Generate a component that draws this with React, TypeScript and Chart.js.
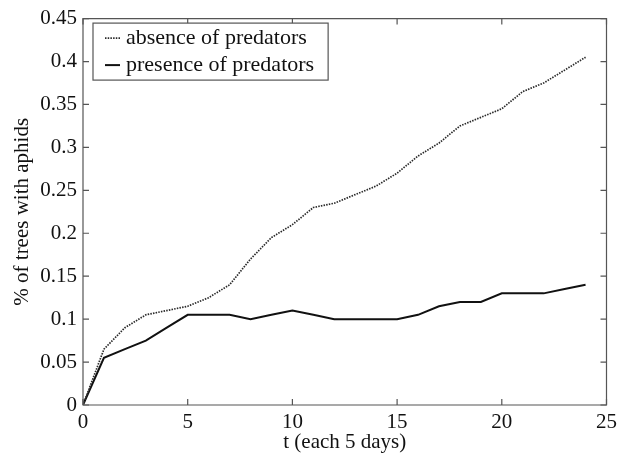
import React, { useEffect, useRef } from "react";
import { Chart, registerables } from "chart.js";

Chart.register(...registerables);

const tValues = [0, 1, 2, 3, 4, 5, 6, 7, 8, 9, 10, 11, 12, 13, 14, 15, 16, 17, 18, 19, 20, 21, 22, 23, 24];
const absenceValues = [0, 0.065, 0.09, 0.105, 0.11, 0.115, 0.125, 0.14, 0.17, 0.195, 0.21, 0.23, 0.235, 0.245, 0.255, 0.27, 0.29, 0.305, 0.325, 0.335, 0.345, 0.365, 0.375, 0.39, 0.405];
const presenceValues = [0, 0.055, 0.065, 0.075, 0.09, 0.105, 0.105, 0.105, 0.1, 0.105, 0.11, 0.105, 0.1, 0.1, 0.1, 0.1, 0.105, 0.115, 0.12, 0.12, 0.13, 0.13, 0.13, 0.135, 0.14];
const seriesLabels = ["absence of predators", "presence of predators"];
const xTickValues = [0, 5, 10, 15, 20, 25];
const xTickLabels = ["0", "5", "10", "15", "20", "25"];
const yTickValues = [0, 0.05, 0.1, 0.15, 0.2, 0.25, 0.3, 0.35, 0.4, 0.45];
const yTickLabels = ["0", "0.05", "0.1", "0.15", "0.2", "0.25", "0.3", "0.35", "0.4", "0.45"];
const xTitle = "t (each 5 days)";
const yTitle = "% of trees with aphids";

const FONT_FAMILY = "'Liberation Serif', 'Times New Roman', serif";
const FONT_SIZE = 21;
const LEGEND_FONT_SIZE = 22;
const FRAME = "#555555";

const framePlugin = {
  id: "matlabFrame",
  afterDatasetsDraw(chart: any) {
    const { ctx, chartArea } = chart;
    const { left, right, top, bottom } = chartArea;
    const xs = chart.scales.x;
    const ys = chart.scales.y;
    const tl = 6;
    ctx.save();
    ctx.strokeStyle = FRAME;
    ctx.lineWidth = 1.2;
    ctx.beginPath();
    ctx.rect(left, top, right - left, bottom - top);
    ctx.stroke();
    ctx.beginPath();
    for (const v of xTickValues) {
      const px = xs.getPixelForValue(v);
      ctx.moveTo(px, bottom);
      ctx.lineTo(px, bottom - tl);
      ctx.moveTo(px, top);
      ctx.lineTo(px, top + tl);
    }
    for (const v of yTickValues) {
      const py = ys.getPixelForValue(v);
      ctx.moveTo(left, py);
      ctx.lineTo(left + tl, py);
      ctx.moveTo(right, py);
      ctx.lineTo(right - tl, py);
    }
    ctx.stroke();

    // legend box
    ctx.font = `${LEGEND_FONT_SIZE}px ${FONT_FAMILY}`;
    const bx = left + 10;
    const by = top + 4.5;
    const textX = bx + 33;
    const maxW = Math.max(...seriesLabels.map((s) => ctx.measureText(s).width));
    const bw = textX - bx + maxW + 14;
    const bh = 57;
    ctx.fillStyle = "#ffffff";
    ctx.fillRect(bx, by, bw, bh);
    ctx.strokeStyle = FRAME;
    ctx.lineWidth = 1.2;
    ctx.strokeRect(bx, by, bw, bh);
    const rows = [by + 15, by + 42];
    chart.data.datasets.forEach((ds: any, i: number) => {
      const y = rows[i];
      ctx.save();
      ctx.strokeStyle = ds.borderColor;
      ctx.lineWidth = ds.borderWidth;
      ctx.setLineDash(ds.borderDash || []);
      ctx.beginPath();
      ctx.moveTo(bx + 12, y);
      ctx.lineTo(bx + 27, y);
      ctx.stroke();
      ctx.restore();
      ctx.fillStyle = "#111111";
      ctx.textBaseline = "middle";
      ctx.textAlign = "left";
      ctx.fillText(ds.label, textX, y);
    });
    ctx.restore();
  },
};

export default function App() {
  const canvasRef = useRef<HTMLCanvasElement | null>(null);

  useEffect(() => {
    if (!canvasRef.current) return;
    const font = { family: FONT_FAMILY, size: FONT_SIZE };
    const chart = new Chart(canvasRef.current, {
      type: "line",
      data: {
        datasets: [
          {
            label: seriesLabels[0],
            data: tValues.map((t, i) => ({ x: t, y: absenceValues[i] })),
            borderColor: "#2a2a2a",
            borderWidth: 1.7,
            borderDash: [1.5, 1.2],
            pointRadius: 0,
            tension: 0,
            fill: false,
          },
          {
            label: seriesLabels[1],
            data: tValues.map((t, i) => ({ x: t, y: presenceValues[i] })),
            borderColor: "#111111",
            borderWidth: 2,
            pointRadius: 0,
            tension: 0,
            fill: false,
          },
        ],
      },
      options: {
        animation: false,
        responsive: true,
        maintainAspectRatio: false,
        layout: { padding: { top: 17, right: 9, left: 0, bottom: 0 } },
        plugins: {
          legend: { display: false },
          tooltip: { enabled: false },
        },
        scales: {
          x: {
            type: "linear",
            min: 0,
            max: 25,
            grid: { display: false, drawTicks: false },
            border: { display: false },
            afterBuildTicks: (scale: any) => {
              scale.ticks = xTickValues.map((v) => ({ value: v }));
            },
            afterFit: (scale: any) => {
              scale.height = 59;
            },
            ticks: {
              padding: 5,
              color: "#111111",
              font,
              maxRotation: 0,
              callback: (_v: any, i: number) => xTickLabels[i],
            },
            title: {
              display: true,
              text: xTitle,
              color: "#111111",
              font,
              padding: { top: 0, bottom: 9 },
            },
          },
          y: {
            type: "linear",
            min: 0,
            max: 0.45,
            grid: { display: false, drawTicks: false },
            border: { display: false },
            afterBuildTicks: (scale: any) => {
              scale.ticks = yTickValues.map((v) => ({ value: v }));
            },
            afterFit: (scale: any) => {
              scale.width = 83;
            },
            ticks: {
              padding: 6,
              color: "#111111",
              font,
              callback: (_v: any, i: number) => yTickLabels[i],
            },
            title: {
              display: true,
              text: yTitle,
              color: "#111111",
              font,
              padding: { top: 10, bottom: 0 },
            },
          },
        },
      },
      plugins: [framePlugin],
    } as any);
    return () => chart.destroy();
  }, []);

  return (
    <div style={{ position: "fixed", left: 0, top: 0, width: 622, height: 464, background: "#ffffff" }}>
      <canvas ref={canvasRef} />
    </div>
  );
}
